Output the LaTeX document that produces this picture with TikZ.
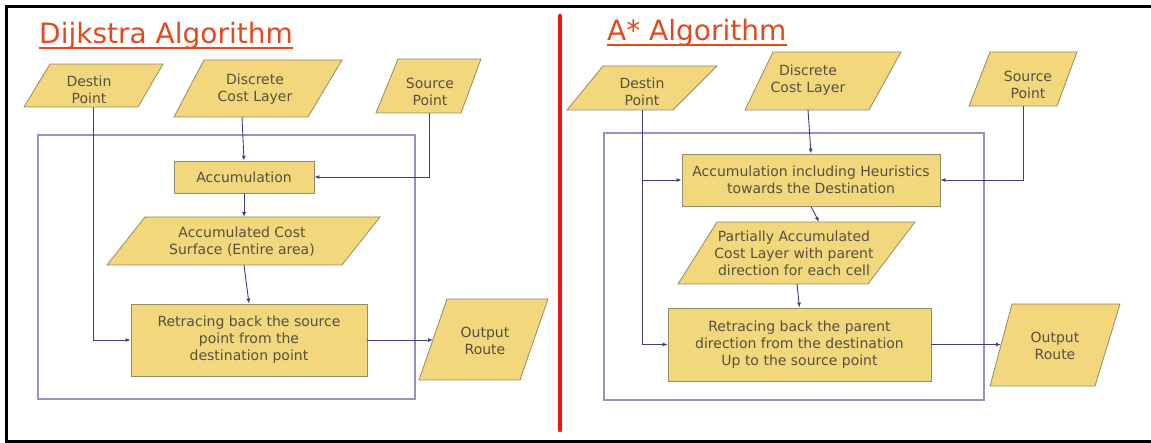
\documentclass[tikz,border=0pt]{standalone}
\usepackage{fontspec}
\setmainfont{DejaVu Sans}
\usetikzlibrary{arrows.meta,calc}
\definecolor{boxfill}{RGB}{242,215,124}
\definecolor{boxline}{RGB}{150,138,105}
\definecolor{txt}{RGB}{88,80,64}
\definecolor{wirec}{RGB}{62,62,128}
\definecolor{framec}{RGB}{148,148,196}
\definecolor{titlered}{RGB}{226,74,30}
\definecolor{divider}{RGB}{236,18,24}
\begin{document}
\begin{tikzpicture}[x=1pt,y=-1pt,
  lbl/.style={font=\fontsize{14}{17}\selectfont, text=txt, align=center, inner sep=0pt},
  shapeline/.style={draw=boxline, fill=boxfill, line width=0.8pt},
  procbox/.style={shapeline, lbl},
  wire/.style={draw=wirec, line width=0.9pt, -{Latex[length=5pt,width=4pt]}},
  plain/.style={draw=wirec, line width=0.9pt},
  panel/.style={draw=framec, line width=2.6pt},
  title/.style={font=\fontsize{28}{32}\selectfont, text=titlered, inner sep=0pt, anchor=base west}]
\useasboundingbox (0,0) rectangle (1151,443);

% outer frame (open on the right) and divider
\draw[black, line width=3pt] (1151,6.7) -- (6.7,6.7) -- (6.7,441.5) -- (1151,441.5);
\draw[divider, line width=4.5pt, line cap=round] (560,16) -- (560,430);

% ---------------- Dijkstra ----------------
\node[title] (tL) at (39,44) {Dijkstra Algorithm};
\draw[titlered, line width=1.4pt] ($(tL.base west)+(0,4)$) -- ($(tL.base east)+(0,4)$);

\draw[panel] (38,135) rectangle (415,399);

\draw[shapeline] (50,64) -- (163,64) -- (138,107) -- (24,107) -- cycle;
\node[lbl] (dL) at (89,90) {Destin\\Point};
\coordinate (dLout) at (93,107);

\draw[shapeline] (204,60) -- (342,60) -- (308,117) -- (174,117) -- cycle;
\node[lbl] (cL) at (255,89.5) {Discrete\\Cost Layer};
\coordinate (cLout) at (242,117);

\draw[shapeline] (398,59) -- (481,59) -- (461,113) -- (376,113) -- cycle;
\node[lbl] (sL) at (430,91.5) {Source\\Point};
\coordinate (sLout) at (429,113);

\node[procbox, minimum width=140pt, minimum height=32pt] (accL) at (244,177) {Accumulation};

\draw[shapeline] (145,217) -- (380,217) -- (342,265) -- (107,265) -- cycle;
\node[lbl] (surf) at (242,242) {Accumulated Cost\\Surface (Entire area)};
\coordinate (surfin) at (244,217);
\coordinate (surfout) at (244,265);

\node[procbox, minimum width=236pt, minimum height=72pt] (retL) at (249,340)
  {Retracing back the source\\point from the\\destination point};

\draw[shapeline] (447,299) -- (548,299) -- (520,380) -- (419,380) -- cycle;
\node[lbl] (oL) at (485,340.5) {Output\\Route};
\coordinate (oLin) at (433,340);

\draw[plain] (dLout) -- (93,340);
\draw[wire] (93,340) -- (retL.west);
\draw[wire] (cLout) -- (accL.north);
\draw[wire] (sLout) |- (accL.east);
\draw[wire] (accL.south) -- (surfin);
\draw[wire] (surfout) -- (retL.north);
\draw[wire] (retL.east) -- (oLin);

% ---------------- A* ----------------
\node[title] (tR) at (607,41) {A* Algorithm};
\draw[titlered, line width=1.4pt] ($(tR.base west)+(0,4)$) -- ($(tR.base east)+(0,4)$);

\draw[panel] (604,133) rectangle (984,400);

\draw[shapeline] (603,66) -- (717,66) -- (673,110) -- (567,110) -- cycle;
\node[lbl] (dR) at (642,91.5) {Destin\\Point};
\coordinate (dRout) at (642,110);

\draw[shapeline] (773,52) -- (901,52) -- (869,110) -- (745,110) -- cycle;
\node[lbl] (cR) at (808,80.5) {Discrete\\Cost Layer};
\coordinate (cRout) at (808,110);

\draw[shapeline] (990,52) -- (1077,52) -- (1057,106) -- (969,106) -- cycle;
\node[lbl] (sR) at (1028,85) {Source\\Point};
\coordinate (sRout) at (1023,106);

\node[procbox, minimum width=258pt, minimum height=52pt] (accR) at (811,180)
  {Accumulation including Heuristics\\towards the Destination};

\draw[shapeline] (717,222) -- (915,222) -- (868,284) -- (678,284) -- cycle;
\node[lbl] (part) at (794,253) {Partially Accumulated\\Cost Layer with parent\\direction for each cell};
\coordinate (partin) at (819,222);
\coordinate (partout) at (797,284);

\node[procbox, minimum width=263pt, minimum height=73pt] (retR) at (799.5,344.5)
  {Retracing back the parent\\direction from the destination\\Up to the source point};

\draw[shapeline] (1012,304) -- (1120,304) -- (1095,386) -- (990,386) -- cycle;
\node[lbl] (oR) at (1055,345.5) {Output\\Route};
\coordinate (oRin) at (1001,344.5);

\draw[plain] (dRout) -- (642,344.5);
\draw[wire] (642,344.5) -- (retR.west);
\draw[wire] (642,180) -- (accR.west);
\draw[wire] (cRout) -- (accR.north);
\draw[wire] (sRout) |- (accR.east);
\draw[wire] (accR.south) -- (partin);
\draw[wire] (partout) -- (retR.north);
\draw[wire] (retR.east) -- (oRin);
\end{tikzpicture}
\end{document}
